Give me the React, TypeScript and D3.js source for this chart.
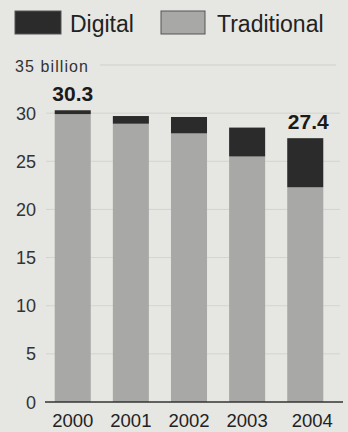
import React from "react";
import * as d3 from "d3";

const years = ["2000", "2001", "2002", "2003", "2004"];
const traditional = [29.9, 28.9, 27.9, 25.5, 22.3];
const digital = [0.4, 0.8, 1.7, 3.0, 5.1];
const totals = ["30.3", "", "", "", "27.4"];
const ticks = [0, 5, 10, 15, 20, 25, 30];

const W = 348, H = 432;
const BG = "#e6e6e3";
const TRAD = "#a8a8a6";
const DIG = "#2b2b2b";
const FONT = "'Liberation Sans', Arial, sans-serif";

export default function App() {
  const y = d3.scaleLinear().domain([0, 35]).range([402, 65]);
  const x = d3.scaleBand().domain(years).range([46, 332]).paddingInner(0.38).paddingOuter(0.15);
  return (
    <svg width={W} height={H} style={{ position: "absolute", left: 0, top: 0, background: BG }}>
      <rect x={0} y={0} width={W} height={H} fill={BG} />
      {/* legend */}
      <rect x={15} y={11} width={46} height={23} fill={DIG} stroke="#555" strokeWidth={1} />
      <text x={70} y={32} fontFamily={FONT} fontSize={23} fill="#222">Digital</text>
      <rect x={161} y={11} width={44} height={23} fill={TRAD} stroke="#555" strokeWidth={1} />
      <text x={217} y={32} fontFamily={FONT} fontSize={23} fill="#222">Traditional</text>
      {/* top label */}
      <text x={15} y={72} fontFamily={FONT} fontSize={16} fill="#333" textLength={73}>35 billion</text>
      <line x1={100} x2={336} y1={y(35)} y2={y(35)} stroke="#cfcfcc" strokeWidth={1} />
      {/* grid + ticks */}
      {ticks.map((t) => (
        <g key={t}>
          {t > 0 && <line x1={46} x2={340} y1={y(t)} y2={y(t)} stroke="#d3d3d0" strokeWidth={1} />}
          <text x={36} y={y(t) + 6.5} textAnchor="end" fontFamily={FONT} fontSize={18} fill="#333">{t}</text>
        </g>
      ))}
      {/* bars */}
      {years.map((yr, i) => {
        const x0 = x(yr)!;
        const bw = x.bandwidth();
        const tot = traditional[i] + digital[i];
        const last = i === years.length - 1;
        return (
          <g key={yr}>
            <rect x={x0} y={y(traditional[i])} width={bw} height={y(0) - y(traditional[i])} fill={TRAD} />
            <rect x={x0} y={y(tot)} width={bw} height={y(traditional[i]) - y(tot)} fill={DIG} />
            {totals[i] && (
              <text x={x0 + bw / 2 + (last ? 3 : 0)} y={y(tot) - 9.5} textAnchor="middle" fontFamily={FONT} fontSize={21} fontWeight="bold" fill="#1a1a1a">{totals[i]}</text>
            )}
            <text x={x0 + bw / 2 + (last ? 7 : 0)} y={427} textAnchor="middle" fontFamily={FONT} fontSize={18.5} fill="#222">{yr}</text>
          </g>
        );
      })}
      <line x1={45} x2={343} y1={y(0)} y2={y(0)} stroke="#333" strokeWidth={1.5} />
    </svg>
  );
}
